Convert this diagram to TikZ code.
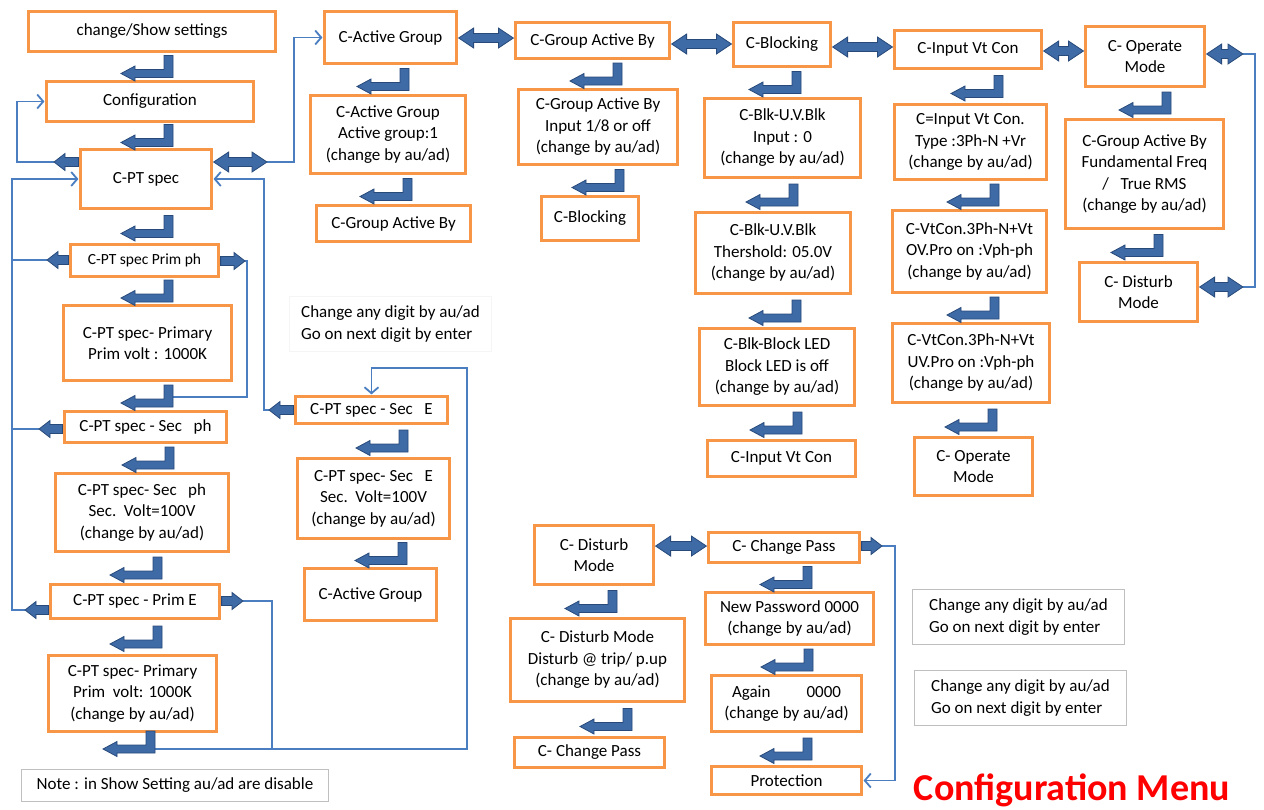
\documentclass[tikz,border=0pt]{standalone}
\usepackage{fontspec}
\setmainfont{Carlito}
\usetikzlibrary{calc,arrows.meta}

\definecolor{boxorange}{RGB}{247,150,70}
\definecolor{linkblue}{RGB}{74,126,193}
\definecolor{arrfill}{RGB}{62,106,166}
\definecolor{arrdraw}{RGB}{40,74,122}
\definecolor{notegray}{RGB}{191,191,191}
\definecolor{titlered}{RGB}{255,0,0}

\tikzset{
  box/.style={draw=boxorange, line width=2.8pt, fill=white, align=center,
    inner sep=0pt, outer sep=2pt, font=\fontsize{17}{21.5}\selectfont},
  notebox/.style={draw=notegray, line width=1.2pt, fill=white, align=left,
    inner sep=0pt, outer sep=0pt, font=\fontsize{17}{21.5}\selectfont},
  faintbox/.style={notebox, draw=gray!8},
  link/.style={draw=linkblue, line width=1.8pt},
  linkarrow/.style={link, -{Straight Barb[length=6pt,width=14pt]}},
  blockarrow/.style={fill=arrfill, draw=arrdraw, line width=0.8pt, line join=miter},
  bentarrowpic/.pic={
    \path[blockarrow] (0,-11) -- (0,11) -- (-38,11) -- (-38,14.5) -- (-52,7)
      -- (-38,-0.5) -- (-38,3) -- (-9,3) -- (-9,-11) -- cycle;
  },
}

% box from its corners (x1,y1)-(x2,y2), y running downwards
\newcommand\boxat[7][box]{%
  \pgfmathsetmacro\bxc{(#3+#5)/2}\pgfmathsetmacro\byc{(#4+#6)/2}%
  \pgfmathsetmacro\bw{#5-#3-2.8}\pgfmathsetmacro\bh{#6-#4-2.8}%
  \node[#1, minimum width=\bw pt, minimum height=\bh pt] (#2) at (\bxc,\byc) {#7};}

% down-then-left block arrow between an upper and a lower node
\newcommand\bentarr[3]{%
  \pic at ($(#3,0 |- #1.south)!0.5!(#3,0 |- #2.north)$) {bentarrowpic};}

% horizontal block arrow from #1 to #2
\newcommand\blockarr[2]{%
  \path[blockarrow] let \p1=(#1), \p2=(#2), \n1={ifthenelse(\x2>\x1,1,-1)} in
    (\x1,{\y1+4.5pt}) -- ({\x2-(\n1)*11pt},{\y1+4.5pt}) -- ({\x2-(\n1)*11pt},{\y1+8.5pt})
    -- (\x2,\y1) -- ({\x2-(\n1)*11pt},{\y1-8.5pt}) -- ({\x2-(\n1)*11pt},{\y1-4.5pt})
    -- (\x1,{\y1-4.5pt}) -- cycle;}

% horizontal double-headed block arrow, #1 left end, #2 right end
\newcommand\dblarr[2]{%
  \path[blockarrow] let \p1=(#1), \p2=(#2) in
    (\x1,\y1) -- ({\x1+15pt},{\y1+10pt}) -- ({\x1+15pt},{\y1+4.5pt})
    -- ({\x2-15pt},{\y1+4.5pt}) -- ({\x2-15pt},{\y1+10pt}) -- (\x2,\y1)
    -- ({\x2-15pt},{\y1-10pt}) -- ({\x2-15pt},{\y1-4.5pt})
    -- ({\x1+15pt},{\y1-4.5pt}) -- ({\x1+15pt},{\y1-10pt}) -- cycle;}

\begin{document}
\begin{tikzpicture}[x=1pt,y=-1pt]
\fill[white] (0,0) rectangle (1264,809);
\useasboundingbox (0,0) rectangle (1264,809);

% ---------- PT spec column ----------
\boxat{cs}{27}{10}{277}{53}{change/Show settings}
\boxat{cfg}{45}{80}{255}{123}{Configuration}
\boxat{cps}{79}{148}{213}{210}{C-PT spec}
\boxat[box,font=\fontsize{15.5}{20}\selectfont]{pph}{69}{243}{220}{278}{C-PT spec Prim ph}
\boxat{prim1}{62}{304}{233}{382}{C-PT spec- Primary\\Prim volt : 1000K}
\boxat{sph}{63}{410}{228}{444}{C-PT spec - Sec\ \ \ ph}
\boxat{sec}{54}{472}{230}{553}{C-PT spec- Sec\ \ \ ph\\Sec.\ \ Volt=100V\\(change by au/ad)}
\boxat{pE}{49}{583}{221}{620}{C-PT spec - Prim E}
\boxat{prim2}{47}{654}{218}{733}{C-PT spec- Primary\\Prim\ \ volt: 1000K\\(change by au/ad)}
\boxat[notebox]{note}{20}{768}{330}{803}{Note : in Show Setting au/ad are disable}

\boxat[faintbox]{hintA}{288}{295}{493}{353}{Change any digit by au/ad\\Go on next digit by enter}
\boxat{sE}{294}{395}{449}{425}{C-PT spec - Sec\ \ \ E}
\boxat{sE2}{296}{457}{451}{540}{C-PT spec- Sec\ \ \ E\\Sec.\ \ Volt=100V\\(change by au/ad)}
\boxat{cagL}{303}{567}{438}{622}{C-Active Group}

% ---------- top row ----------
\boxat{cag}{323}{10}{458}{65}{C-Active Group}
\boxat{cag1}{309}{94}{467}{175}{C-Active Group\\Active group:1\\(change by au/ad)}
\boxat{gabL}{315}{204}{472}{243}{C-Group Active By}

\boxat{gab}{514}{21}{671}{60}{C-Group Active By}
\boxat{gab1}{517}{88}{679}{166}{C-Group Active By\\Input 1/8 or off\\(change by au/ad)}
\boxat{blkL}{540}{195}{640}{242}{C-Blocking}

\boxat{blk}{732}{21}{832}{68}{C-Blocking}
\boxat{uv1}{703}{97}{862}{179}{C-Blk-U.V.Blk\\Input : 0\\(change by au/ad)}
\boxat{uv2}{694}{211}{852}{295}{C-Blk-U.V.Blk\\Thershold: 05.0V\\(change by au/ad)}
\boxat{led}{698}{327}{856}{407}{C-Blk-Block LED\\Block LED is off\\(change by au/ad)}
\boxat{ivcL}{706}{439}{857}{478}{C-Input Vt Con}

\boxat{ivc}{893}{29}{1043}{70}{C-Input Vt Con}
\boxat{ivc1}{893}{103}{1048}{181}{C=Input Vt Con.\\Type :3Ph-N +Vr\\(change by au/ad)}
\boxat{vt1}{891}{209}{1048}{294}{C-VtCon.3Ph-N+Vt\\OV.Pro on :Vph-ph\\(change by au/ad)}
\boxat{vt2}{891}{322}{1051}{404}{C-VtCon.3Ph-N+Vt\\UV.Pro on :Vph-ph\\(change by au/ad)}
\boxat{omL}{913}{436}{1034}{497}{C- Operate\\Mode}

\boxat{om}{1084}{25}{1206}{88}{C- Operate\\Mode}
\boxat{gab3}{1064}{118}{1225}{230}{C-Group Active By\\Fundamental Freq\\/\ \ \ True RMS\\(change by au/ad)}
\boxat{dm}{1078}{261}{1199}{323}{C- Disturb\\Mode}

% ---------- bottom group ----------
\boxat{dm2}{533}{524}{655}{586}{C- Disturb\\Mode}
\boxat{dm3}{509}{617}{686}{703}{C- Disturb Mode\\Disturb @ trip/ p.up\\(change by au/ad)}
\boxat{cpL}{513}{736}{666}{769}{C- Change Pass}

\boxat{cp}{707}{531}{861}{564}{C- Change Pass}
\boxat{np}{704}{591}{875}{646}{New Password 0000\\(change by au/ad)}
\boxat{ag}{710}{674}{863}{733}{Again\hspace{36pt}0000\\(change by au/ad)}
\boxat{prot}{710}{765}{863}{796}{Protection}

\boxat[notebox]{hintB}{911}{588}{1126}{646}{Change any digit by au/ad\\Go on next digit by enter}
\boxat[notebox]{hintC}{913}{669}{1128}{727}{Change any digit by au/ad\\Go on next digit by enter}

\node[font=\fontsize{38}{42}\selectfont\bfseries, text=titlered, inner sep=0pt]
  (title) at (1072,790) {Configuration Menu};

% ---------- free ends of the block arrows ----------
\coordinate (cpsR) at (267,162);
\coordinate (cpsL) at (54,162);
\coordinate (pphL) at (47,260);
\coordinate (pphR) at (245,261);
\coordinate (sphL) at (39,429);
\coordinate (pEL) at (25,610);
\coordinate (pER) at (243,601);
\coordinate (sEL) at (269,410);
\coordinate (omR) at (1243,54);
\coordinate (dmR) at (1243,287);
\coordinate (cpR) at (882,546);
\coordinate (primbend) at (173,397);
\coordinate (botbend) at (155,749);

% ---------- thin connectors ----------
\draw[linkarrow] (cpsR) -- (294,162) |- (cag.west);
\draw[linkarrow] (cpsL) -- (17,162) |- (cfg.west);
\draw[linkarrow] (pEL) -- (12,610) |- (cps.west);
\draw[link] (pphL) -- (12,260);
\draw[link] (sphL) -- (12,429);
\draw[linkarrow] (sEL) -- (264,410) |- (cps.east);
\draw[link] (pphR) -- (247,261) -- (247,397) -- (primbend);
\draw[link] (pER) -- (272,601) -- (272,749);
\draw[linkarrow] (botbend) -- (467,749) -- (467,368) -| (sE.north);
\draw[link] (omR) -- (1255,54) -- (1255,287) -- (dmR);
\draw[linkarrow] (cpR) -- (895,546) |- (prot.east);

% ---------- double block arrows ----------
\dblarr{cps.east |- 0,162}{cpsR}
\dblarr{cag.east |- 0,38}{gab.west |- 0,38}
\dblarr{gab.east |- 0,44}{blk.west |- 0,44}
\dblarr{blk.east |- 0,47}{ivc.west |- 0,47}
\dblarr{ivc.east |- 0,51}{om.west |- 0,51}
\dblarr{om.east |- 0,54}{omR}
\dblarr{dm.east |- 0,287}{dmR}
\dblarr{dm2.east |- 0,546}{cp.west |- 0,546}

% ---------- single block arrows ----------
\blockarr{cps.west |- 0,162}{cpsL}
\blockarr{pph.west |- 0,260}{pphL}
\blockarr{pph.east |- 0,261}{pphR}
\blockarr{sph.west |- 0,429}{sphL}
\blockarr{pE.west |- 0,610}{pEL}
\blockarr{pE.east |- 0,601}{pER}
\blockarr{sE.west |- 0,410}{sEL}
\blockarr{cp.east |- 0,546}{cpR}

% ---------- bent block arrows ----------
\bentarr{cs}{cfg}{173}
\bentarr{cfg}{cps}{173}
\bentarr{cps}{pph}{173}
\bentarr{pph}{prim1}{173}
\bentarr{prim1}{sph}{173}
\bentarr{sph}{sec}{174}
\bentarr{sec}{pE}{162}
\bentarr{pE}{prim2}{162}
\pic at (155,742) {bentarrowpic};
\bentarr{sE}{sE2}{408}
\bentarr{sE2}{cagL}{407}
\bentarr{cag}{cag1}{409}
\bentarr{cag1}{gabL}{412}
\bentarr{gab}{gab1}{622}
\bentarr{gab1}{blkL}{624}
\bentarr{blk}{uv1}{801}
\bentarr{uv1}{uv2}{798}
\bentarr{uv2}{led}{801}
\bentarr{led}{ivcL}{802}
\bentarr{ivc}{ivc1}{1003}
\bentarr{ivc1}{vt1}{999}
\bentarr{vt1}{vt2}{999}
\bentarr{vt2}{omL}{997}
\bentarr{om}{gab3}{1171}
\bentarr{gab3}{dm}{1163}
\bentarr{dm2}{dm3}{617}
\bentarr{dm3}{cpL}{632}
\bentarr{cp}{np}{812}
\bentarr{np}{ag}{813}
\bentarr{ag}{prot}{812}
\end{tikzpicture}
\end{document}
